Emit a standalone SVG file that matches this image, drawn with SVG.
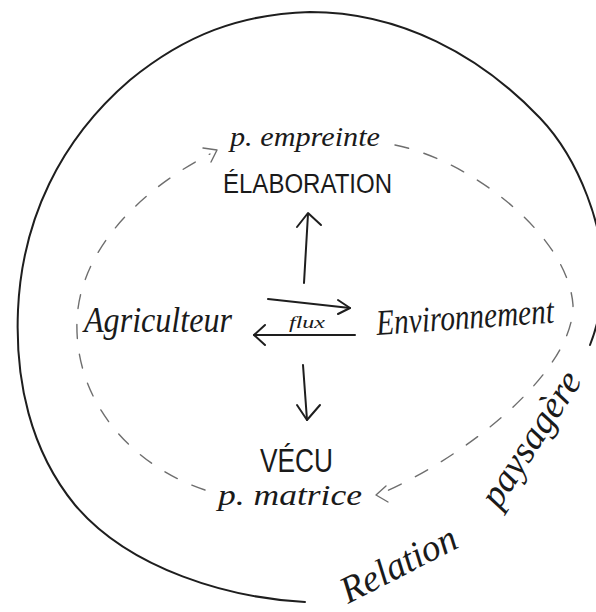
<svg xmlns="http://www.w3.org/2000/svg" width="596" height="612" viewBox="0 0 596 612">
<style>
.hand{font-family:"Liberation Serif",serif;font-style:italic;fill:#1a1a1a}
.caps{font-family:"Liberation Sans",Arial,sans-serif;fill:#1a1a1a}
.solid{fill:none;stroke:#1e1e1e;stroke-width:2;stroke-linecap:round;stroke-linejoin:round}
.dash{fill:none;stroke:#6e6e6e;stroke-width:1.4;stroke-dasharray:14 16;stroke-linecap:round}
.thin{fill:none;stroke:#6e6e6e;stroke-width:1.4;stroke-linecap:round;stroke-linejoin:round}
</style>
<rect width="596" height="612" fill="#ffffff"/>
<g id="relation-circle">
<path class="solid" d="M305,602 C230,598 130,570 75,505 C30,450 15,380 18,310 C22,220 60,140 130,80 C185,35 240,14 310,12 C400,12 480,55 540,118 C580,160 605,230 603,280 C602,310 596,330 590,345"/>
</g>
<g id="connectors">
<path class="dash" d="M205,490 C130,465 74,400 77,320 C80,250 140,190 210,154"/>
<path class="thin" d="M203,148 L217,150 L211,162"/>
<path class="dash" d="M395,145 C470,160 568,235 573,305 C574,370 470,455 380,494"/>
<path class="thin" d="M386,486 L376,495 L388,502"/>
<path class="solid" d="M304,283 L308,214"/>
<path class="solid" d="M297,227 L308,213 L321,225"/>
<path class="solid" d="M268,299 L350,308"/>
<path class="solid" d="M338,300 L350,308 L338,314"/>
<path class="solid" d="M355,335 L254,335"/>
<path class="solid" d="M265,325 L254,335 L265,345"/>
<path class="solid" d="M303,365 L307,420"/>
<path class="solid" d="M297,405 L307,420 L320,405"/>
</g>
<g id="node-empreinte">
<text class="hand" x="230" y="146" font-size="27" textLength="150" lengthAdjust="spacingAndGlyphs">p. empreinte</text>
</g>
<g id="node-elaboration">
<text class="caps" x="223" y="193" font-size="27" textLength="169" lengthAdjust="spacingAndGlyphs">ÉLABORATION</text>
</g>
<g id="node-agriculteur">
<text class="hand" x="84" y="332" font-size="36" textLength="148" lengthAdjust="spacingAndGlyphs">Agriculteur</text>
</g>
<g id="node-flux">
<text class="hand" x="289" y="328" font-size="16" textLength="36" lengthAdjust="spacingAndGlyphs">flux</text>
</g>
<g id="node-environnement">
<text class="hand" x="377" y="335" font-size="36" textLength="178" lengthAdjust="spacingAndGlyphs" transform="rotate(-4 377 335)">Environnement</text>
</g>
<g id="node-vecu">
<text class="caps" x="260" y="472" font-size="34" textLength="73" lengthAdjust="spacingAndGlyphs">VÉCU</text>
</g>
<g id="node-matrice">
<text class="hand" x="218" y="505" font-size="30" textLength="144" lengthAdjust="spacingAndGlyphs">p. matrice</text>
</g>
<g id="label-relation">
<text class="hand" x="348" y="604" font-size="38" textLength="126" lengthAdjust="spacingAndGlyphs" transform="rotate(-27 348 604)">Relation</text>
</g>
<g id="label-paysagere">
<text class="hand" x="499" y="510" font-size="38" textLength="154" lengthAdjust="spacingAndGlyphs" transform="rotate(-57 499 510)">paysagère</text>
</g>
</svg>
